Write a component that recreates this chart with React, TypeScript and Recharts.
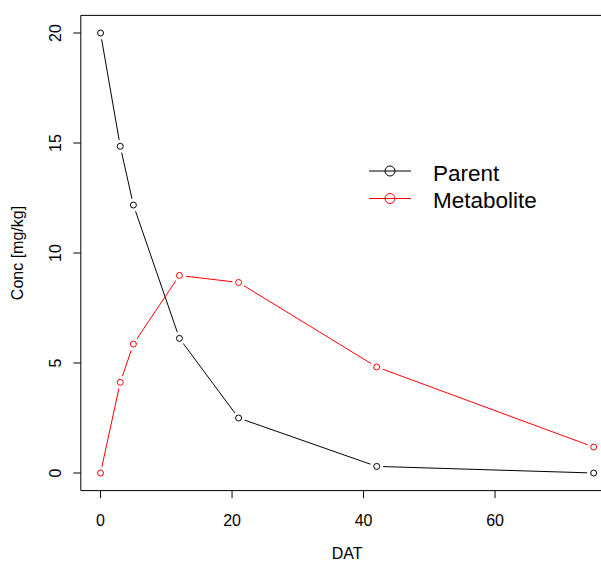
import React from 'react';
import { LineChart, Line, XAxis, YAxis, ReferenceArea, Legend } from 'recharts';

const days = [0, 3, 5, 12, 21, 42, 75];
const parent = [20, 14.85, 12.18, 6.12, 2.5, 0.3, 0];
const metabolite = [0, 4.12, 5.86, 8.98, 8.66, 4.82, 1.18];
const xTicks = [0, 20, 40, 60];
const yTicks = [0, 5, 10, 15, 20];

const FONT = '"Liberation Sans", Arial, Helvetica, sans-serif';

const data = days.map((d, i) => ({ day: d, parent: parent[i], metabolite: metabolite[i] }));

const series = [
  { key: 'parent', name: 'Parent', color: '#000000' },
  { key: 'metabolite', name: 'Metabolite', color: '#ff0000' },
];

// R type="b": open circle with a small gap in the line around it
const makeDot = (color: string) => (props: any) => {
  const { cx, cy, index } = props;
  return (
    <g key={`dot-${color}-${index}`}>
      <circle cx={cx} cy={cy} r={6.5} fill="#ffffff" stroke="none" />
      <circle cx={cx} cy={cy} r={3} fill="none" stroke={color} strokeWidth={1} />
    </g>
  );
};

const XTick = (props: any) => {
  const { x, payload } = props;
  return (
    <text x={x} y={526} textAnchor="middle" fontSize={16} fontFamily={FONT} fill="#000">
      {payload.value}
    </text>
  );
};

const YTick = (props: any) => {
  const { y, payload } = props;
  return (
    <text
      x={61}
      y={y}
      transform={`rotate(-90, 61, ${y})`}
      textAnchor="middle"
      fontSize={16}
      fontFamily={FONT}
      fill="#000"
    >
      {payload.value}
    </text>
  );
};

const LegendBox = () => (
  <svg width={220} height={70} style={{ position: 'absolute', left: 0, top: 0, overflow: 'visible' }}>
    {series.map((s, i) => {
      const cy = 16 + i * 27.5;
      return (
        <g key={s.key}>
          <line x1={9} x2={51} y1={cy} y2={cy} stroke={s.color} strokeWidth={1} />
          <circle cx={30} cy={cy} r={5} fill="none" stroke={s.color} strokeWidth={1} />
          <text x={73} y={cy + 9.5} fontSize={22.5} fontFamily={FONT} fill="#000">
            {s.name}
          </text>
        </g>
      );
    })}
  </svg>
);

export default function App() {
  return (
    <div style={{ position: 'absolute', left: 0, top: 0, width: 601, height: 563, overflow: 'hidden', background: '#fff' }}>
      <LineChart width={640} height={563} data={data} margin={{ top: 15.4, right: 26.6, left: 0, bottom: 0 }}>
        <XAxis
          dataKey="day"
          type="number"
          domain={[-3, 78]}
          ticks={xTicks}
          height={72.4}
          axisLine={false}
          tickSize={7.5}
          tickLine={{ stroke: '#000' }}
          tick={<XTick />}
          label={{
            content: (p: any) => {
              const vb = p.viewBox;
              return (
                <text x={vb.x + vb.width / 2} y={559} textAnchor="middle" fontSize={16} fontFamily={FONT} fill="#000">
                  DAT
                </text>
              );
            },
          }}
        />
        <YAxis
          type="number"
          domain={[-0.8, 20.8]}
          ticks={yTicks}
          width={80.8}
          axisLine={false}
          tickSize={7.5}
          tickLine={{ stroke: '#000' }}
          tick={<YTick />}
          label={{
            content: (p: any) => {
              const vb = p.viewBox;
              const cy = vb.y + vb.height / 2;
              return (
                <text
                  x={23}
                  y={cy}
                  transform={`rotate(-90, 23, ${cy})`}
                  textAnchor="middle"
                  fontSize={16}
                  fontFamily={FONT}
                  fill="#000"
                >
                  Conc [mg/kg]
                </text>
              );
            },
          }}
        />
        <ReferenceArea x1={-3} x2={78} y1={-0.8} y2={20.8} fill="none" fillOpacity={0} stroke="#000" strokeWidth={1} />
        {series.map((s) => (
          <Line
            key={s.key}
            dataKey={s.key}
            name={s.name}
            type="linear"
            stroke={s.color}
            strokeWidth={1}
            dot={makeDot(s.color)}
            activeDot={false}
            isAnimationActive={false}
          />
        ))}
        <Legend
          content={<LegendBox />}
          height={0}
          wrapperStyle={{ position: 'absolute', left: 360, top: 155, width: 0, height: 0, overflow: 'visible' }}
        />
      </LineChart>
    </div>
  );
}
